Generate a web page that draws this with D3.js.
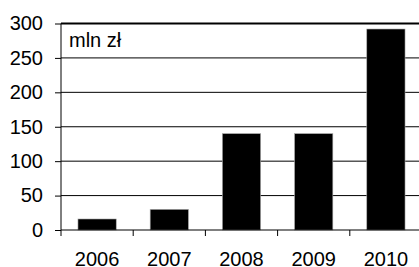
<!DOCTYPE html>
<html>
<head>
<meta charset="utf-8">
<script src="https://cdn.jsdelivr.net/npm/d3@7"></script>
<style>
  body { margin: 0; background: #fff; }
  svg { display: block; }
  text { font-family: Arial, "Liberation Sans", sans-serif; font-size: 20px; fill: #000; }
</style>
</head>
<body>
<div id="chart"></div>
<script>
// data
const years = ["2006", "2007", "2008", "2009", "2010"];
const values = [16, 30, 140, 140, 292];
const yTicks = [0, 50, 100, 150, 200, 250, 300];
const unitLabel = "mln zł";

const W = 419, H = 267;
const plot = { left: 61, top: 23.5, right: 422, bottom: 230 };

const svg = d3.select("#chart")
  .append("svg")
  .attr("width", W)
  .attr("height", H);

const x = d3.scaleBand()
  .domain(years)
  .range([plot.left, plot.right])
  .paddingInner(0.47)
  .paddingOuter(0.235);

const y = d3.scaleLinear()
  .domain([0, 300])
  .range([plot.bottom, plot.top]);

const step = x.step();

// gridlines (300 is the top border, drawn thicker)
svg.append("g")
  .selectAll("line")
  .data(yTicks.filter(d => d > 0))
  .join("line")
  .attr("x1", plot.left)
  .attr("x2", W)
  .attr("y1", d => y(d))
  .attr("y2", d => y(d))
  .attr("stroke", "#000")
  .attr("stroke-width", d => d == 300 ? 2 : 1);

// bars
svg.append("g")
  .selectAll("rect")
  .data(values)
  .join("rect")
  .attr("x", (d, i) => x(years[i]))
  .attr("width", x.bandwidth())
  .attr("y", d => y(d))
  .attr("height", d => y(0) - y(d))
  .attr("fill", "#000")
  .attr("stroke", "#aaa")
  .attr("stroke-width", 0.6);

// y axis
const yAxis = d3.axisLeft(y)
  .tickValues(yTicks)
  .tickSize(6)
  .tickPadding(12);

const gy = svg.append("g")
  .attr("transform", `translate(${plot.left},0)`)
  .call(yAxis);
gy.select(".domain").remove();
gy.selectAll("line").attr("stroke", "#000");
gy.selectAll("text").style("font-size", "20px").style("font-family", "Arial, 'Liberation Sans', sans-serif");

// left axis line, runs a little below zero
svg.append("line")
  .attr("x1", plot.left).attr("x2", plot.left)
  .attr("y1", plot.top).attr("y2", plot.bottom + 6)
  .attr("stroke", "#000");

// x axis line
svg.append("line")
  .attr("x1", plot.left).attr("x2", W)
  .attr("y1", y(0)).attr("y2", y(0))
  .attr("stroke", "#000");

// category boundary ticks
svg.append("g")
  .selectAll("line")
  .data(years.slice(1))
  .join("line")
  .attr("x1", d => x(d) - x.paddingInner() * step / 2)
  .attr("x2", d => x(d) - x.paddingInner() * step / 2)
  .attr("y1", y(0))
  .attr("y2", y(0) + 6)
  .attr("stroke", "#000");

// year labels
svg.append("g")
  .selectAll("text")
  .data(years)
  .join("text")
  .attr("x", d => x(d) + x.bandwidth() / 2)
  .attr("y", 266)
  .attr("text-anchor", "middle")
  .text(d => d);

// unit label
svg.append("text")
  .attr("x", 69)
  .attr("y", 47)
  .text(unitLabel);
</script>
</body>
</html>
